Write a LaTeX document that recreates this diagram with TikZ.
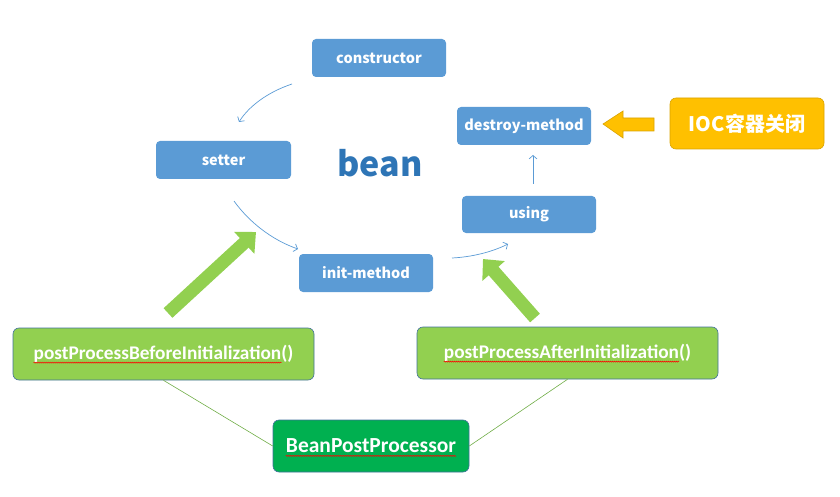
\documentclass[tikz,border=0pt]{standalone}
\usepackage{fontspec}
\setmainfont{Noto Sans CJK SC}
\newfontfamily\calfont{Carlito}
\usetikzlibrary{arrows.meta,decorations.pathmorphing}
\definecolor{boxblue}{HTML}{5B9BD5}
\definecolor{beanblue}{HTML}{2E75B6}
\definecolor{ppgreen}{HTML}{92D050}
\definecolor{bppgreen}{HTML}{00B050}
\definecolor{edgeblue}{HTML}{41719C}
\definecolor{iocorange}{HTML}{FFC000}
\definecolor{iocedge}{HTML}{D9A300}
\definecolor{linegreen}{HTML}{70AD47}
\def\boxtext#1{\fontsize{#1}{#1}\selectfont}
\tikzset{
	stage/.style={fill=boxblue, rounded corners=4pt, minimum width=134pt, minimum height=38pt, inner sep=0pt, text=white, font=\bfseries\boxtext{14.5}},
	flow/.style={draw=boxblue, line width=0.7pt, -{Straight Barb[length=3.5pt,width=8pt]}},
	procbox/.style={draw=edgeblue, line width=0.6pt, rounded corners=6pt, minimum width=301pt, minimum height=52pt, inner sep=0pt},
	proctext/.style={text=white, inner sep=0pt, font=\calfont\bfseries\boxtext{19.3}},
	squig/.style={draw=red, line width=0.45pt, decorate, decoration={snake, amplitude=0.6pt, segment length=2pt}},
	boost/.style={draw=ppgreen, line width=13pt, -{Triangle[length=16pt,width=29pt]}},
	link/.style={draw=linegreen, line width=0.6pt}
}
\begin{document}
\begin{tikzpicture}[x=1pt,y=-1pt]
	%%%%% START %%%%%
	\useasboundingbox (0,0) rectangle (840,497);
	
	\node[stage] (constructor) at (379,58) {constructor};
	\node[stage, minimum width=135pt] (setter) at (223.5,160) {setter};
	\node[stage] (init) at (366,273) {init-method};
	\node[stage, minimum height=37pt] (using) at (529,214.5) {using};
	\node[stage] (destroy) at (524,126) {destroy-method};
	\node[text=beanblue, font=\bfseries\boxtext{34}] (bean) at (380,163) {bean};
	
	\coordinate (c1) at (292,84);   \coordinate (c2) at (239,122);
	\coordinate (c3) at (234,201);  \coordinate (c4) at (298,249);
	\coordinate (c5) at (452,258);  \coordinate (c6) at (508,244);
	\coordinate (c7) at (533,184);  \coordinate (c8) at (533,155);
	\draw[flow] (c1) .. controls (268,92) and (249,106) .. (c2);
	\draw[flow] (c3) .. controls (249,222) and (272,240) .. (c4);
	\draw[flow] (c5) .. controls (472,257) and (492,252) .. (c6);
	\draw[flow] (c7) -- (c8);
	
	% IOC container closing
	\node[fill=iocorange, draw=iocedge, line width=0.6pt, rounded corners=6pt, minimum width=154pt, minimum height=51pt, text=white, font=\bfseries\boxtext{20}] (ioc) at (747,123.5) {IOC容器关闭};
	\filldraw[fill=iocorange, draw=iocedge, line width=0.6pt] (603,124) -- (623,111) -- (623,118) -- (654,118) -- (654,131) -- (623,131) -- (623,138) -- cycle;
	
	% post processors
	\node[procbox, fill=ppgreen] (before) at (163.5,354) {};
	\node[proctext] (beforetext) at (before) {postProcessBeforeInitialization()};
	\node[procbox, fill=ppgreen] (after) at (567.5,353) {};
	\node[proctext] (aftertext) at (after) {postProcessAfterInitialization()};
	\node[procbox, fill=bppgreen, minimum width=196pt] (bpp) at (371,446) {};
	\node[proctext, font=\calfont\bfseries\boxtext{21.5}] (bpptext) at (bpp) {BeanPostProcessor};
	
	\draw[squig] ([yshift=-3pt]beforetext.base west) -- ([xshift=-12pt,yshift=-3pt]beforetext.base east);
	\draw[squig] ([yshift=-3pt]aftertext.base west) -- ([xshift=-12pt,yshift=-3pt]aftertext.base east);
	\draw[squig] ([yshift=-3pt]bpptext.base west) -- ([yshift=-3pt]bpptext.base east);
	
	\coordinate (t1) at (168,313);  \coordinate (h1) at (256,232);
	\coordinate (t2) at (535,318);  \coordinate (h2) at (483,259);
	\draw[boost] (t1) -- (h1);
	\draw[boost] (t2) -- (h2);
	
	\draw[link] (before.south) -- (bpp.west);
	\draw[link] (after.south) -- (bpp.east);
	
	%%%%% END %%%%%
\end{tikzpicture}
\end{document}
